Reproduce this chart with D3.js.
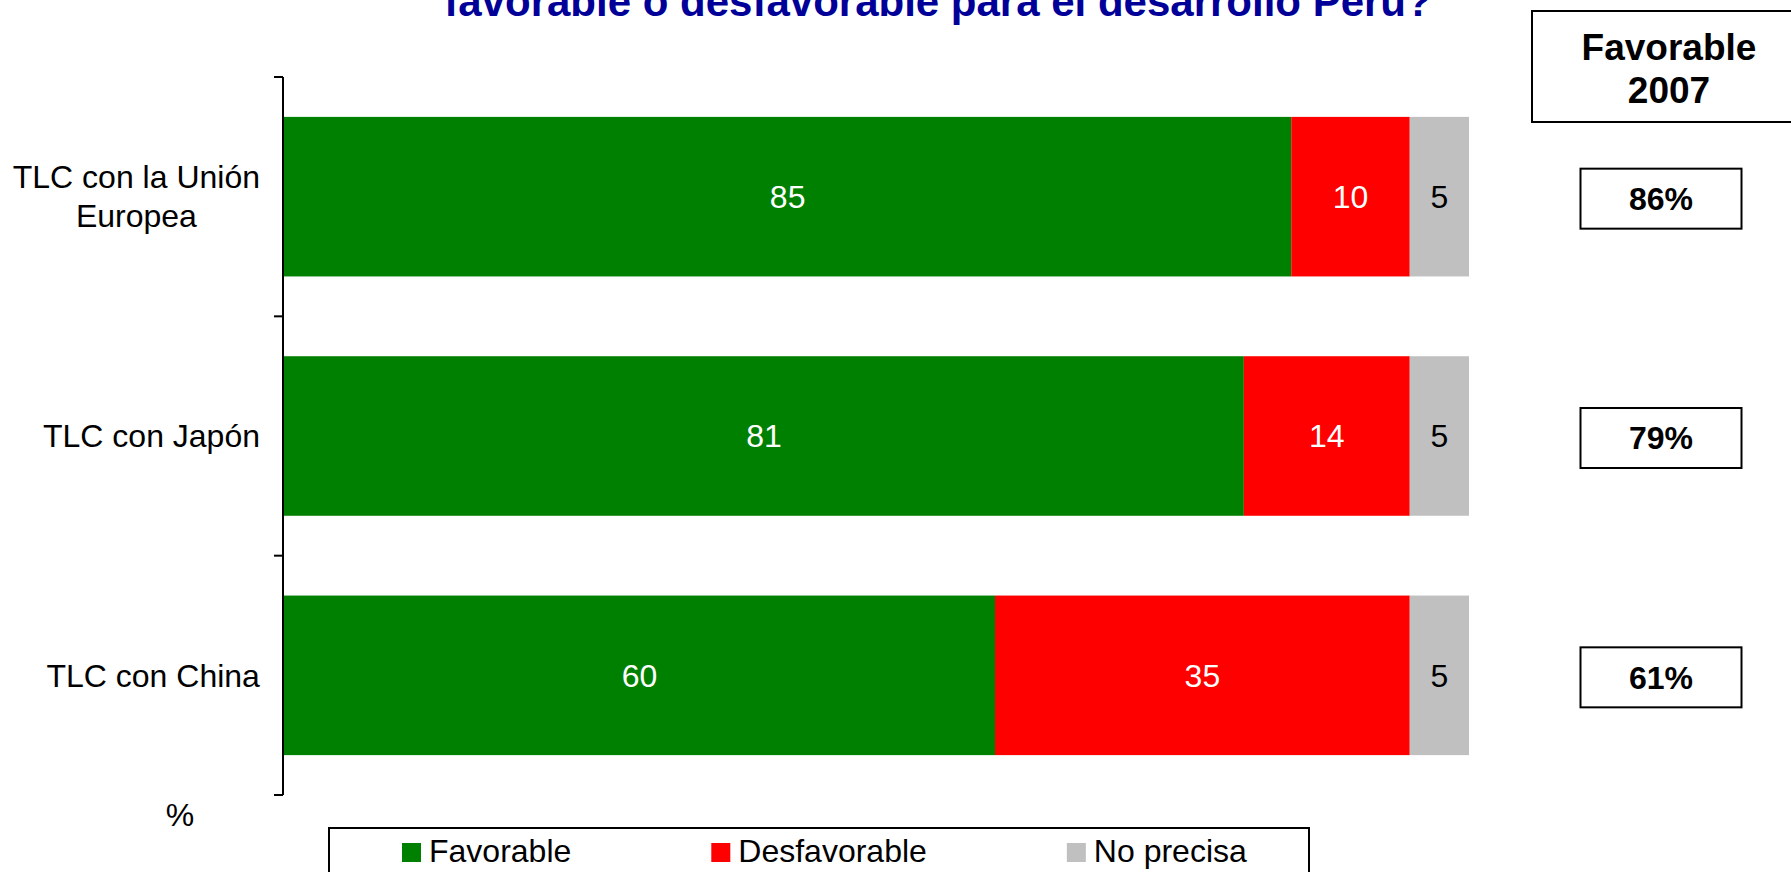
<!DOCTYPE html>
<html>
<head>
<meta charset="utf-8">
<script src="https://cdn.jsdelivr.net/npm/d3@7"></script>
<style>
  html, body { margin: 0; padding: 0; background: #fff; }
  svg { display: block; font-family: "Liberation Sans", Arial, sans-serif; }
</style>
</head>
<body>
<svg id="chart" width="1791" height="872"></svg>
<script>
// Categories (each entry split into its display lines)
const categories = ["TLC con la Unión Europea", "TLC con Japón", "TLC con China"];
const categoryLines = [["TLC con la Unión", "Europea"], ["TLC con Japón"], ["TLC con China"]];

// Series values (%)
const seriesNames = ["Favorable", "Desfavorable", "No precisa"];
const favorable = [85, 81, 60];
const desfavorable = [10, 14, 35];
const noPrecisa = [5, 5, 5];

// Favorable share from the 2007 survey
const favorable2007 = [86, 79, 61];

const titleText = "favorable o desfavorable para el desarrollo Perú?";
const sideHeader = ["Favorable", "2007"];

const colors = { "Favorable": "#008000", "Desfavorable": "#ff0000", "No precisa": "#c0c0c0" };
const labelColors = { "Favorable": "#ffffff", "Desfavorable": "#ffffff", "No precisa": "#000000" };

const rows = categories.map((c, i) => ({
  category: c,
  "Favorable": favorable[i],
  "Desfavorable": desfavorable[i],
  "No precisa": noPrecisa[i]
}));

const svg = d3.select("#chart");
const FONT = 32;

const x = d3.scaleLinear().domain([0, 100]).range([284, 1469]);
const y = d3.scaleBand().domain(categories).range([77, 795])
  .paddingInner(1 / 3).paddingOuter(1 / 6);

// Title (last line of the question)
svg.append("text")
  .attr("x", 938).attr("y", 16)
  .attr("text-anchor", "middle")
  .attr("font-size", 42).attr("font-weight", "bold")
  .attr("fill", "#000099")
  .text(titleText);

// Stacked bars
const stack = d3.stack().keys(seriesNames)(rows);
const layers = svg.append("g").selectAll("g")
  .data(stack).join("g")
  .attr("fill", d => colors[d.key]);

layers.selectAll("rect")
  .data(d => d.map(p => ({ p, key: d.key })))
  .join("rect")
  .attr("x", d => x(d.p[0]))
  .attr("y", d => y(d.p.data.category))
  .attr("width", d => x(d.p[1]) - x(d.p[0]))
  .attr("height", y.bandwidth());

// Value labels inside segments
layers.selectAll("text")
  .data(d => d.map(p => ({ p, key: d.key })))
  .join("text")
  .attr("x", d => (x(d.p[0]) + x(d.p[1])) / 2)
  .attr("y", d => y(d.p.data.category) + y.bandwidth() / 2)
  .attr("dy", "0.35em")
  .attr("text-anchor", "middle")
  .attr("font-size", FONT)
  .attr("fill", d => labelColors[d.key])
  .text(d => d.p[1] - d.p[0]);

// Category axis: line with ticks between categories
const axisX = 283;
const [r0, r1] = y.range();
const tickYs = d3.range(categories.length + 1).map(i => r0 + i * y.step());
const axisG = svg.append("g").attr("stroke", "#000").attr("stroke-width", 2);
axisG.append("line").attr("x1", axisX).attr("x2", axisX).attr("y1", r0).attr("y2", r1);
axisG.selectAll("line.tick").data(tickYs).join("line").attr("class", "tick")
  .attr("x1", axisX - 9).attr("x2", axisX).attr("y1", d => d).attr("y2", d => d);

// Category labels (multi-line labels centred as a block, right-aligned to the axis)
const labelRight = 260;
const lineGap = 39;
categories.forEach((c, i) => {
  const lines = categoryLines[i];
  const cy = y(c) + y.bandwidth() / 2;
  const t = svg.append("text")
    .attr("text-anchor", "middle")
    .attr("font-size", FONT)
    .attr("fill", "#000");
  lines.forEach((ln, j) => {
    t.append("tspan")
      .attr("x", 0)
      .attr("y", cy + (j - (lines.length - 1) / 2) * lineGap)
      .attr("dy", "0.35em")
      .text(ln);
  });
  const w = t.node().getBBox().width;
  t.attr("transform", `translate(${labelRight - w / 2},0)`);
});

// Unit marker
svg.append("text")
  .attr("x", 180).attr("y", 826)
  .attr("text-anchor", "middle")
  .attr("font-size", FONT).attr("fill", "#000")
  .text("%");

// Side column: 2007 favorable share
svg.append("rect")
  .attr("x", 1532).attr("y", 11).attr("width", 320).attr("height", 111)
  .attr("fill", "#fff").attr("stroke", "#000").attr("stroke-width", 2);
svg.append("text")
  .attr("text-anchor", "middle")
  .attr("font-size", 37).attr("font-weight", "bold").attr("fill", "#000")
  .selectAll("tspan").data(sideHeader).join("tspan")
  .attr("x", 1669)
  .attr("y", (d, i) => 60 + i * 43)
  .text(d => d);

const boxW = 161, boxH = 60, boxCx = 1661;
const sideG = svg.append("g").selectAll("g").data(categories).join("g")
  .attr("transform", c => `translate(${boxCx},${y(c) + y.bandwidth() / 2 + 2})`);
sideG.append("rect")
  .attr("x", -boxW / 2).attr("y", -boxH / 2)
  .attr("width", boxW).attr("height", boxH)
  .attr("fill", "#fff").attr("stroke", "#000").attr("stroke-width", 2);
sideG.append("text")
  .attr("text-anchor", "middle").attr("dy", "0.35em")
  .attr("font-size", FONT).attr("font-weight", "bold").attr("fill", "#000")
  .text((c, i) => favorable2007[i] + "%");

// Legend
const legendBox = { x: 329, y: 828, w: 980, h: 120 };
svg.append("rect")
  .attr("x", legendBox.x).attr("y", legendBox.y)
  .attr("width", legendBox.w).attr("height", legendBox.h)
  .attr("fill", "#fff").attr("stroke", "#000").attr("stroke-width", 2);

const legendG = svg.append("g");
let cursor = 0;
const sw = 19, textGap = 8, itemGap = 140, baseY = 862;
seriesNames.forEach((name, i) => {
  const item = legendG.append("g").attr("transform", `translate(${cursor},0)`);
  item.append("rect")
    .attr("x", 0).attr("y", baseY - sw)
    .attr("width", sw).attr("height", sw)
    .attr("fill", colors[name]);
  const t = item.append("text")
    .attr("x", sw + textGap).attr("y", baseY)
    .attr("font-size", FONT).attr("fill", "#000")
    .text(name);
  cursor += sw + textGap + t.node().getComputedTextLength() + (i < seriesNames.length - 1 ? itemGap : 0);
});
const legendStart = 402;
legendG.attr("transform", `translate(${legendStart},0)`);
</script>
</body>
</html>
